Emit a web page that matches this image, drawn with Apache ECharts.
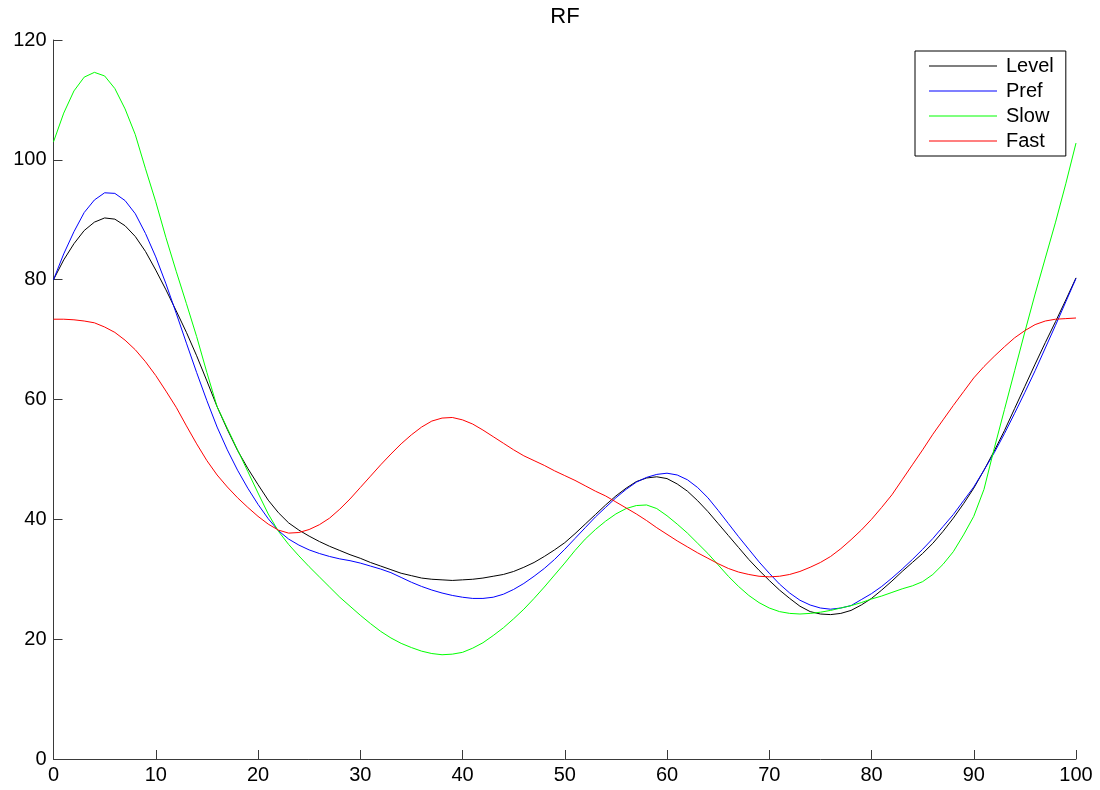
<!DOCTYPE html>
<html>
<head>
<meta charset="utf-8">
<title>RF</title>
<script src="https://cdn.jsdelivr.net/npm/echarts@6/dist/echarts.min.js"></script>
<style>
  html, body { margin: 0; padding: 0; background: #fff; }
  #chart { width: 1100px; height: 790px; }
</style>
</head>
<body>
<div id="chart"></div>
<script>
// Percent of cycle, one sample per percent (0..100)
const cycle = Array.from({ length: 101 }, (_, i) => i);

const level = [
  80.0, 83.3, 86.0, 88.2, 89.6, 90.3, 90.1, 89.0, 87.2, 84.7,
  81.6, 78.3, 74.8, 71.2, 67.3, 63.1, 58.8, 55.0, 51.5, 48.5,
  45.8, 43.2, 41.1, 39.4, 38.2, 37.2, 36.3, 35.5, 34.8, 34.1,
  33.5, 32.8, 32.2, 31.6, 31.0, 30.6, 30.2, 30.0, 29.9, 29.8,
  29.9, 30.0, 30.2, 30.5, 30.8, 31.3, 32.0, 32.8, 33.8, 34.9,
  36.1, 37.6, 39.2, 40.8, 42.4, 43.9, 45.2, 46.3, 46.9, 47.1,
  46.8, 45.9, 44.7, 43.1, 41.3, 39.3, 37.3, 35.3, 33.3, 31.5,
  29.8, 28.2, 26.8, 25.5, 24.6, 24.2, 24.1, 24.3, 24.8, 25.7,
  26.8, 28.2, 29.7, 31.3, 32.8, 34.3, 36.0, 38.0, 40.2, 42.6,
  45.2, 48.2, 51.4, 54.8, 58.5, 62.2, 65.9, 69.5, 73.0, 76.6,
  80.3
];

const pref = [
  80.0, 84.3, 88.0, 91.2, 93.3, 94.5, 94.4, 93.2, 91.0, 87.7,
  83.8, 79.3, 74.4, 69.4, 64.5, 59.8, 55.4, 51.6, 48.2, 45.2,
  42.5, 40.1, 38.1, 36.7, 35.7, 34.9, 34.3, 33.8, 33.4, 33.1,
  32.7, 32.2, 31.7, 31.1, 30.3, 29.5, 28.8, 28.2, 27.7, 27.3,
  27.0, 26.8, 26.8, 27.0, 27.5, 28.3, 29.3, 30.5, 31.8, 33.3,
  35.0, 36.8, 38.6, 40.4, 42.0, 43.6, 45.0, 46.2, 47.0, 47.5,
  47.7, 47.4, 46.6, 45.3, 43.6, 41.5, 39.3, 37.1, 35.0, 32.9,
  31.0, 29.2, 27.7, 26.5, 25.7, 25.2, 25.0, 25.2, 25.6, 26.6,
  27.6, 28.8, 30.2, 31.7, 33.3, 35.0, 36.8, 38.8, 40.8, 43.1,
  45.4, 48.2, 51.1, 54.3, 57.7, 61.2, 64.8, 68.6, 72.4, 76.3,
  80.2
];

const slow = [
  103.0, 107.8, 111.5, 113.8, 114.6, 114.0, 111.9, 108.5, 104.2, 98.5,
  93.0, 87.0, 81.4, 76.0, 70.5, 64.5, 58.8, 55.2, 51.6, 48.0,
  44.4, 40.9, 38.0, 35.8, 33.9, 32.1, 30.4, 28.7, 27.0, 25.5,
  24.0, 22.6, 21.3, 20.2, 19.3, 18.6, 18.0, 17.6, 17.4, 17.5,
  17.8, 18.5, 19.4, 20.6, 21.9, 23.4, 25.0, 26.8, 28.7, 30.7,
  32.7, 34.8, 36.7, 38.3, 39.7, 40.9, 41.8, 42.3, 42.4, 41.8,
  40.6, 39.2, 37.7, 36.0, 34.3, 32.4, 30.5, 28.8, 27.3, 26.1,
  25.2, 24.6, 24.3, 24.2, 24.3, 24.5, 24.8, 25.2, 25.6, 26.1,
  26.7, 27.2, 27.8, 28.4, 28.9, 29.6, 30.8, 32.5, 34.6, 37.4,
  40.5, 45.0, 51.8, 58.3, 64.8, 71.3, 77.6, 83.6, 89.6, 96.0,
  102.8
];

const fast = [
  73.4, 73.4, 73.3, 73.1, 72.8, 72.1, 71.2, 69.9, 68.3, 66.3,
  64.0, 61.4, 58.7, 55.6, 52.6, 49.8, 47.4, 45.4, 43.6, 42.0,
  40.5, 39.2, 38.2, 37.7, 37.8, 38.3, 39.1, 40.2, 41.7, 43.4,
  45.3, 47.2, 49.1, 50.9, 52.6, 54.1, 55.4, 56.4, 56.9, 57.0,
  56.6, 55.9, 54.9, 53.8, 52.7, 51.6, 50.6, 49.8, 49.0, 48.1,
  47.3, 46.5, 45.6, 44.7, 43.9, 42.9, 41.9, 40.9, 39.8, 38.6,
  37.5, 36.4, 35.4, 34.4, 33.5, 32.6, 31.8, 31.2, 30.8, 30.5,
  30.4, 30.5, 30.8, 31.3, 32.0, 32.8, 33.8, 35.1, 36.6, 38.2,
  40.0, 42.0, 44.1, 46.6, 49.1, 51.6, 54.2, 56.6, 59.0, 61.3,
  63.6, 65.5, 67.2, 68.8, 70.3, 71.5, 72.5, 73.1, 73.4, 73.5,
  73.6
];

const seriesNames = ['Level', 'Pref', 'Slow', 'Fast'];
const xTicks = [0, 10, 20, 30, 40, 50, 60, 70, 80, 90, 100];
const yTicks = [0, 20, 40, 60, 80, 100, 120];

const seriesValues = [level, pref, slow, fast];
const seriesColors = ['#000000', '#0000ff', '#00ff00', '#ff0000'];

const FONT = 'Liberation Sans, Arial, Helvetica, sans-serif';
const AXIS_COLOR = '#3a3a3a';

const chart = echarts.init(document.getElementById('chart'), null, { renderer: 'canvas' });

const pairs = vals => cycle.map((x, i) => [x, vals[i]]);

const option = {
  backgroundColor: '#ffffff',
  animation: false,
  textStyle: { fontFamily: FONT },
  title: {
    text: 'RF',
    left: 565,
    top: 6,
    padding: 0,
    textAlign: 'center',
    textStyle: { fontFamily: FONT, fontSize: 22, fontWeight: 'normal', color: '#000' }
  },
  legend: {
    orient: 'vertical',
    left: 915,
    top: 51,
    padding: [5, 12, 5, 14],
    borderColor: '#000',
    borderWidth: 1,
    backgroundColor: '#fff',
    itemWidth: 68,
    itemHeight: 1,
    itemGap: 5,
    icon: 'rect',
    data: seriesNames,
    textStyle: { fontFamily: FONT, fontSize: 20, lineHeight: 20, color: '#000', padding: [0, 0, 0, 4] }
  },
  grid: { left: 53.5, right: 24, top: 40, bottom: 31, containLabel: false },
  xAxis: {
    type: 'value',
    min: xTicks[0],
    max: xTicks[xTicks.length - 1],
    interval: xTicks[1] - xTicks[0],
    axisLine: { show: true, onZero: false, lineStyle: { color: AXIS_COLOR, width: 1 } },
    axisTick: { show: true, inside: true, length: 9, lineStyle: { color: AXIS_COLOR } },
    axisLabel: { color: '#000', fontFamily: FONT, fontSize: 20, margin: 6, showMinLabel: true, showMaxLabel: true },
    splitLine: { show: false }
  },
  yAxis: {
    type: 'value',
    min: yTicks[0],
    max: yTicks[yTicks.length - 1],
    interval: yTicks[1] - yTicks[0],
    axisLine: { show: true, onZero: false, lineStyle: { color: AXIS_COLOR, width: 1 } },
    axisTick: { show: true, inside: true, length: 9, lineStyle: { color: AXIS_COLOR } },
    axisLabel: { color: '#000', fontFamily: FONT, fontSize: 20, margin: 7, showMinLabel: true, showMaxLabel: true },
    splitLine: { show: false }
  },
  series: seriesNames.map((name, k) => ({
    name: name,
    type: 'line',
    data: pairs(seriesValues[k]),
    smooth: false,
    symbol: 'none',
    clip: true,
    itemStyle: { color: seriesColors[k] },
    lineStyle: { color: seriesColors[k], width: 1 }
  }))
};

chart.setOption(option);
</script>
</body>
</html>
